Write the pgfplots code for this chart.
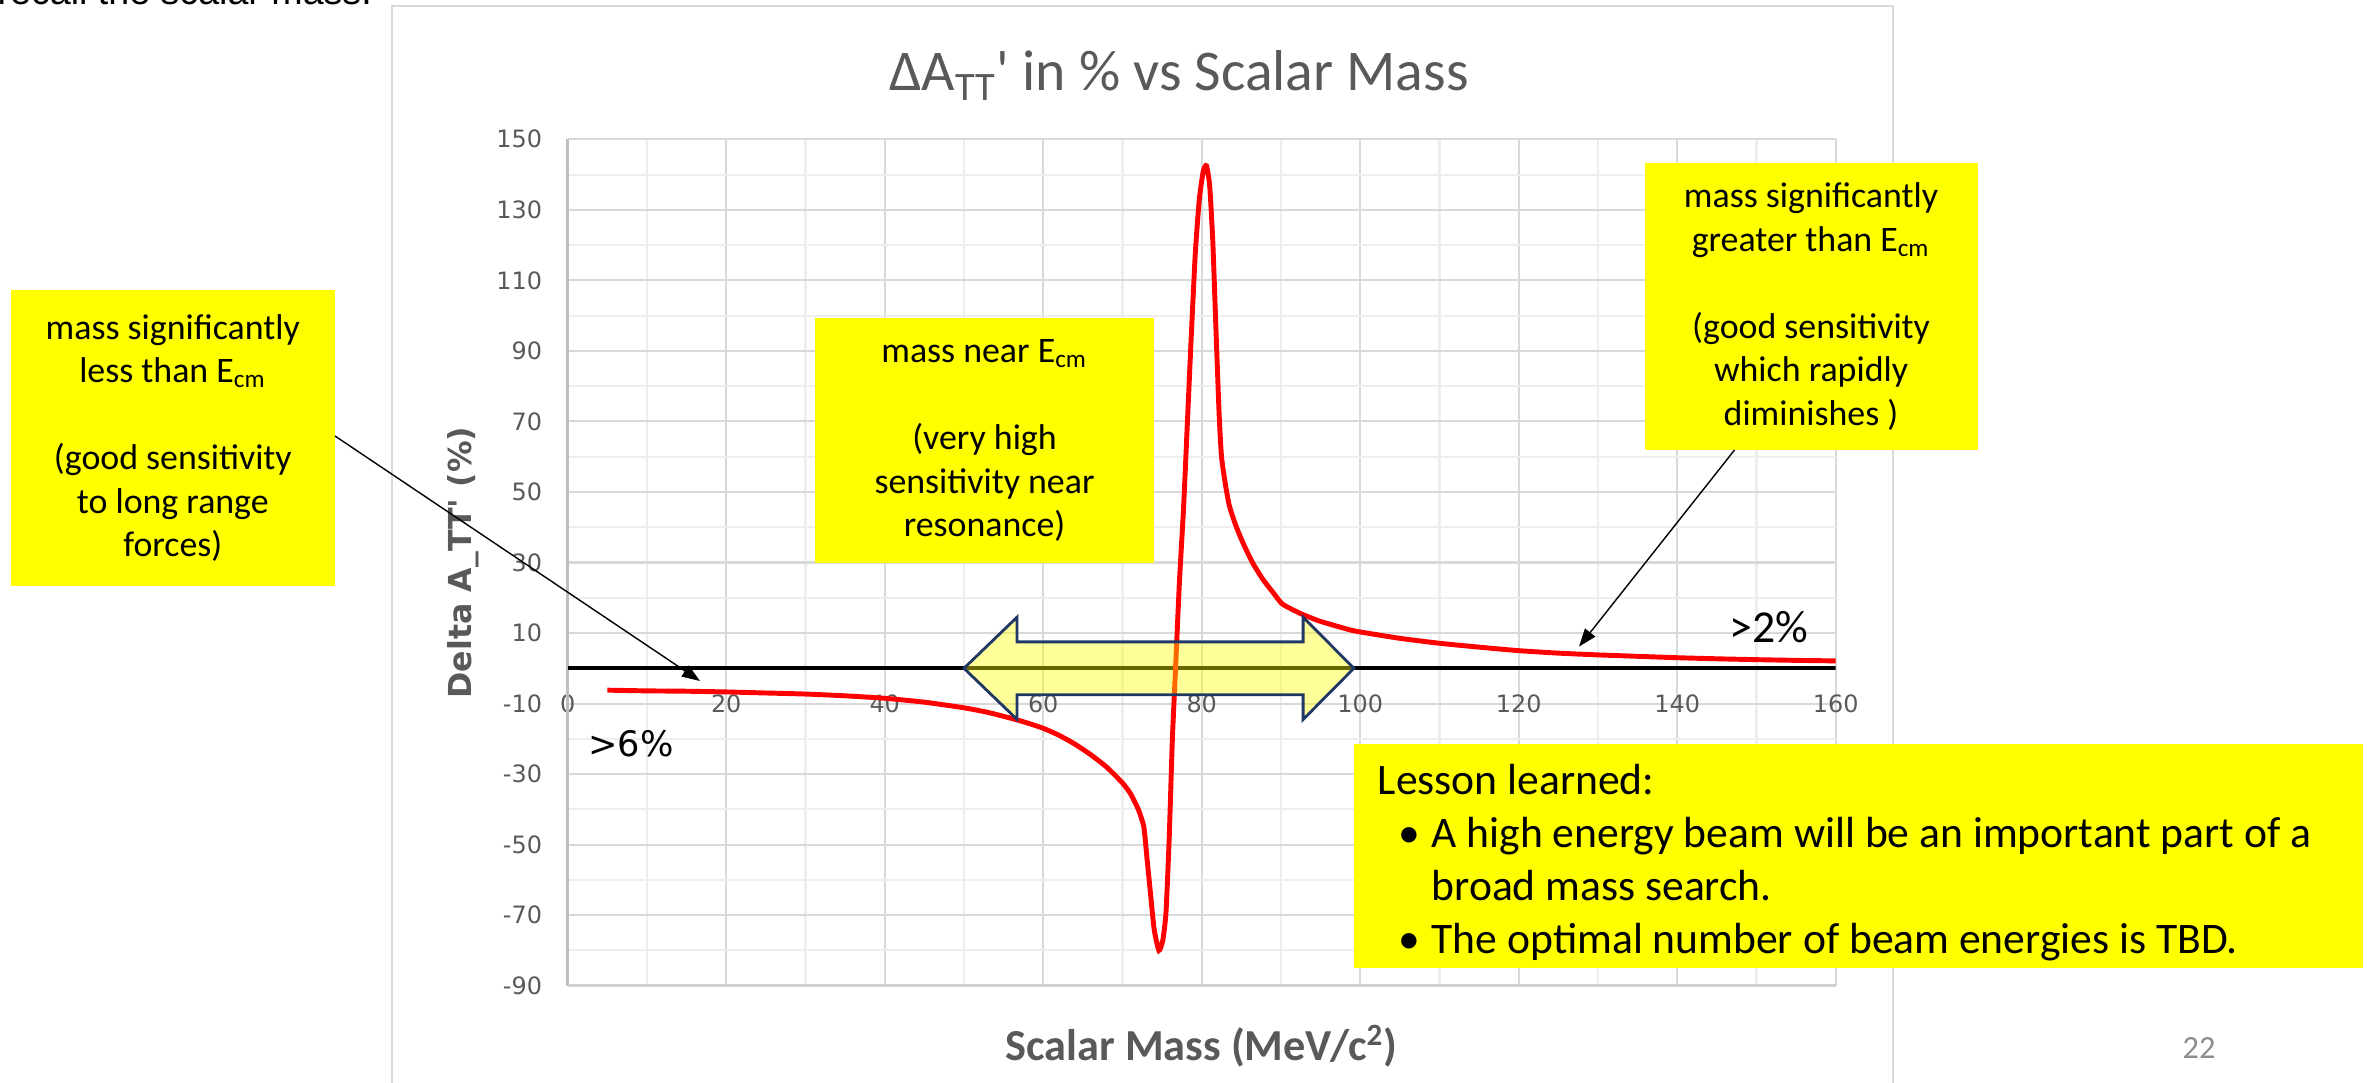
\documentclass[border=0pt]{standalone}
\usepackage{fontspec}
\setmainfont{Carlito}
\newfontfamily\dejavu{DejaVu Sans}
\newfontfamily\arial{Liberation Sans}
\usepackage{pgfplots}
\pgfplotsset{compat=1.18}
\usetikzlibrary{arrows.meta}
\definecolor{tickgray}{HTML}{595959}
\definecolor{gridmaj}{HTML}{D9D9D9}
\definecolor{gridmin}{HTML}{EEEEEE}
\definecolor{axgray}{HTML}{BFBFBF}
\definecolor{botgray}{HTML}{CFCFCF}
\definecolor{navy}{HTML}{203864}
\definecolor{pagegray}{HTML}{8C8C8C}
\definecolor{hl}{HTML}{FFFF00}

\begin{document}
\begin{tikzpicture}
\useasboundingbox (0,0) rectangle (236.7mm,-108.3mm);
\begin{scope}[x=0.1mm,y=-0.1mm]
 \draw[gridmaj, line width=0.6pt] (392,5.7) rectangle (1893,1250);
 \node[anchor=base west, inner sep=0pt, font=\arial\fontsize{10.7}{12}\selectfont] at (-3,4.6) {recall the scalar mass.};
 \node[anchor=base, inner sep=0pt, text=tickgray, font=\fontsize{16.4}{19}\selectfont] at (1179,91) {ΔA\textsubscript{TT}\textquotesingle{} in \% vs Scalar Mass};
\end{scope}

\begin{axis}[
 at={(56.77mm,-98.57mm)}, anchor=south west,
 width=126.8mm, height=84.64mm, scale only axis,
 xmin=0, xmax=160, ymin=-90, ymax=150,
 xtick={0,20,...,160}, minor xtick={10,30,...,150},
 ytick={-90,-70,...,150}, minor ytick={-80,-60,...,140},
 grid=both,
 major grid style={gridmaj, line width=0.6pt},
 minor grid style={gridmin, line width=0.6pt},
 major tick length=0pt, minor tick length=0pt,
 axis line style={draw=none},
 /pgf/number format/assume math mode=true,
 ticklabel style={font=\dejavu\fontsize{6.8}{8}\selectfont, text=tickgray},
 xticklabel style={anchor=center, yshift=28.22mm},
 yticklabel style={anchor=east, inner sep=0pt, xshift=-2.5mm},
 extra x ticks={0}, extra x tick labels={},
 extra x tick style={grid=major, major grid style={axgray, line width=0.9pt}},
 extra y ticks={-90}, extra y tick labels={},
 extra y tick style={grid=major, major grid style={botgray, line width=0.8pt}},
 xlabel={Scalar Mass (MeV/c\textsuperscript{2})},
 ylabel={Delta A\_TT\textquotesingle{} (\%)},
 xlabel style={at={(axis description cs:0.5,-0.0712)}, anchor=center, font=\bfseries\fontsize{12.6}{14}\selectfont, text=tickgray},
 ylabel style={at={(axis description cs:-0.0822,0.5)}, anchor=center, font=\dejavu\bfseries\fontsize{9}{11}\selectfont, text=tickgray},
]
\addplot[black, line width=1.2pt] coordinates {(0,0) (160,0)};
\addplot[red, line width=1.4pt, smooth, tension=0.35] coordinates {
(5,-6.2) (10,-6.4) (15,-6.5) (20,-6.7) (25,-7.0) (30,-7.3) (35,-7.8) (40,-8.5)
(45,-9.6) (50,-11.2) (53,-12.5) (56,-14.2) (58,-15.5) (60,-17.0) (62,-19.0)
(64,-21.5) (66,-24.5) (68,-28.0) (70,-32.5) (71,-35.5) (72,-40) (72.7,-45)
(73.1,-54) (73.5,-63) (74.0,-74) (74.6,-80) (75.1,-77) (75.5,-69) (75.9,-48)
(76.3,-20) (76.7,0) (77.2,25) (77.7,45) (78.2,70) (78.7,95) (79.2,118)
(79.7,133) (80.2,141) (80.6,142.5) (81.0,137) (81.4,121) (81.8,96) (82.2,72)
(82.5,60) (83.0,52) (83.5,46) (84.3,40.5) (85.2,35.6) (86.4,30) (87.7,25.3)
(89,21.5) (90.2,18.2) (92.5,15.5) (95,13.3) (98.7,10.9) (100,10.3) (105,8.5)
(110,7.1) (115,6.0) (120,5.0) (125,4.3) (130,3.8) (135,3.4) (140,3.0)
(145,2.7) (150,2.45) (155,2.25) (160,2.1)
};
\filldraw[fill=hl, fill opacity=0.4, draw=navy, line width=0.8pt, line join=miter]
 (axis cs:50,0) -- (axis cs:56.7,14.5) -- (axis cs:56.7,7.5) -- (axis cs:92.8,7.5)
 -- (axis cs:92.8,14.5) -- (axis cs:99.2,0) -- (axis cs:92.8,-14.5) -- (axis cs:92.8,-7.5)
 -- (axis cs:56.7,-7.5) -- (axis cs:56.7,-14.5) -- cycle;
\end{axis}

\begin{scope}[x=0.1mm,y=-0.1mm]
 \tikzset{box/.style={align=center, inner sep=0pt, font=\fontsize{10.2}{12.4}\selectfont}}
 \fill[hl] (10.6,290) rectangle (335,586);
 \node[box] at (172.8,438) {mass significantly\\less than E\textsubscript{cm}\\[12.4pt](good sensitivity\\to long range\\forces)};
 \fill[hl] (815,318) rectangle (1154,563);
 \node[box] at (984.5,440.5) {mass near E\textsubscript{cm}\\[12.4pt](very high\\sensitivity near\\resonance)};
 \fill[hl] (1645,163) rectangle (1977.6,450);
 \node[box] at (1811,306.5) {mass significantly\\greater than E\textsubscript{cm}\\[12.4pt](good sensitivity\\which rapidly\\diminishes )};
 \fill[hl] (1354,744) rectangle (2363,968);
 \tikzset{ll/.style={anchor=base west, inner sep=0pt, font=\fontsize{12.4}{15}\selectfont}}
 \node[ll] at (1377,794) {Lesson learned:};
 \node[ll] at (1398,847) {•};
 \node[ll] at (1431,847) {A high energy beam will be an important part of a};
 \node[ll] at (1431,900) {broad mass search.};
 \node[ll] at (1398,953) {•};
 \node[ll] at (1431,953) {The optimal number of beam energies is TBD.};
 \draw[black, line width=0.4pt, -{Triangle[length=1.8mm,width=1.3mm]}] (335,436) -- (700,681);
 \draw[black, line width=0.4pt, -{Triangle[length=1.8mm,width=1.3mm]}] (1734.5,450) -- (1579,646.6);
 \node[inner sep=0pt, font=\dejavu\fontsize{10}{12}\selectfont] at (631,744) {>6\%};
 \node[inner sep=0pt, font=\fontsize{13}{15}\selectfont] at (1769,627) {>2\%};
 \node[inner sep=0pt, text=pagegray, font=\fontsize{9.2}{11}\selectfont] at (2199,1048) {22};
\end{scope}
\end{tikzpicture}
\end{document}
